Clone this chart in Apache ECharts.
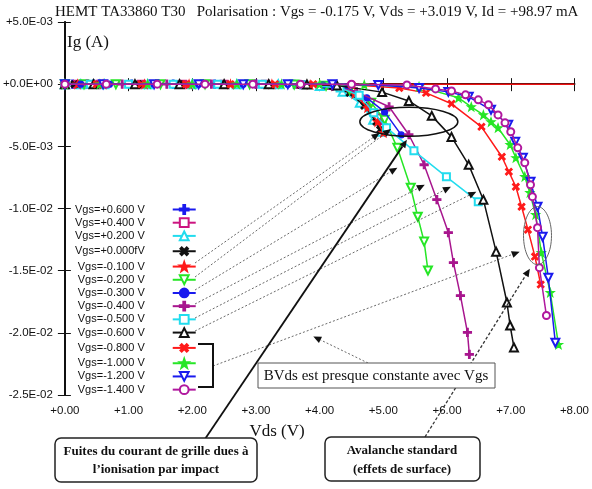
<!DOCTYPE html>
<html>
<head>
<meta charset="utf-8">
<script src="https://cdn.jsdelivr.net/npm/echarts@6/dist/echarts.min.js"></script>
<style>
  html, body { margin: 0; padding: 0; background: #fff; }
  #chart { width: 592px; height: 489px; }
</style>
</head>
<body>
<div id="chart"></div>
<script>
// Ig(Vds) curves, one array of [Vds (V), Ig (A)] per Vgs
const vgsNames = ['Vgs=+0.600 V', 'Vgs=+0.400 V', 'Vgs=+0.200 V', 'Vgs=+0.000fV', 'Vgs=-0.100 V',
  'Vgs=-0.200 V', 'Vgs=-0.300 V', 'Vgs=-0.400 V', 'Vgs=-0.500 V', 'Vgs=-0.600 V',
  'Vgs=-0.800 V', 'Vgs=-1.000 V', 'Vgs=-1.200 V', 'Vgs=-1.400 V']

const igP060 = [[0, 0], [0.12, 0], [0.45, 0], [1.05, 0], [1.7, 0], [2.35, 0], [3.0, 0], [3.6, -0.02e-3], [4.16, -0.1e-3], [4.5, -0.6e-3], [4.75, -1.67e-3], [4.94, -3.03e-3], [5.03, -3.83e-3]]
const igP040 = [[0, 0], [0.2, 0], [0.55, 0], [1.2, 0], [1.85, 0], [2.5, 0], [3.15, 0], [3.7, -0.03e-3], [4.08, -0.1e-3], [4.44, -0.5e-3], [4.72, -1.5e-3], [4.91, -2.7e-3], [5.0, -3.5e-3]]
const igP020 = [[0, 0], [0.25, 0], [0.62, 0], [1.3, 0], [2.0, 0], [2.7, 0], [3.35, 0], [4.0, -0.14e-3], [4.36, -0.6e-3], [4.63, -1.5e-3], [4.84, -2.87e-3], [4.97, -3.83e-3]]
const igP000 = [[0, 0], [0.15, 0], [0.5, 0], [1.15, 0], [1.8, 0], [2.45, 0], [3.1, 0], [3.7, -0.04e-3], [4.13, -0.14e-3], [4.47, -0.7e-3], [4.7, -1.74e-3], [4.89, -3.03e-3], [4.95, -3.67e-3]]
const igM010 = [[0, 0], [0.2, 0], [0.6, 0], [1.25, 0], [1.95, 0], [2.6, 0], [3.25, 0], [3.85, -0.05e-3], [4.24, -0.14e-3], [4.55, -0.78e-3], [4.75, -1.9e-3], [4.91, -3.03e-3], [5.0, -3.91e-3]]
const igM020 = [[0, 0], [0.3, 0], [0.8, 0], [1.5, 0], [2.2, 0], [2.9, 0], [3.6, -0.02e-3], [4.1, -0.12e-3], [4.47, -0.46e-3], [4.81, -1.5e-3], [5.02, -2.87e-3], [5.22, -5.12e-3], [5.43, -8.33e-3], [5.54, -10.66e-3], [5.64, -12.66e-3], [5.70, -14.99e-3]]
const igM030 = [[0, 0], [0.25, 0], [0.7, 0], [1.4, 0], [2.1, 0], [2.8, 0], [3.5, 0], [4.05, -0.08e-3], [4.39, -0.2e-3], [4.74, -1.1e-3], [5.02, -2.23e-3], [5.28, -4.08e-3]]
const igM040 = [[0, 0], [0.35, 0], [0.9, 0], [1.6, 0], [2.3, 0], [3.0, 0], [3.7, -0.03e-3], [4.2, -0.15e-3], [4.58, -0.62e-3], [5.09, -1.82e-3], [5.40, -4.07e-3], [5.64, -6.48e-3], [5.84, -9.29e-3], [6.02, -11.94e-3], [6.10, -14.35e-3], [6.21, -17.0e-3], [6.32, -19.97e-3], [6.35, -21.74e-3]]
const igM050 = [[0, 0], [0.4, 0], [1.0, 0], [1.7, 0], [2.4, 0], [3.1, 0], [3.75, -0.05e-3], [4.32, -0.3e-3], [4.62, -0.9e-3], [4.85, -2.3e-3], [5.05, -3.5e-3], [5.48, -5.36e-3], [5.99, -7.45e-3], [6.49, -9.45e-3]]
const igM060 = [[0, 0], [0.45, 0], [1.1, 0], [1.8, 0], [2.5, 0], [3.2, 0], [3.8, -0.02e-3], [4.27, -0.1e-3], [4.98, -0.64e-3], [5.40, -1.35e-3], [5.76, -2.55e-3], [6.07, -4.24e-3], [6.34, -6.49e-3], [6.57, -9.29e-3], [6.77, -13.47e-3], [6.94, -17.56e-3], [6.99, -19.41e-3], [7.05, -21.17e-3]]
const igM080 = [[0, 0], [0.5, 0], [1.2, 0], [1.9, 0], [2.6, 0], [3.3, 0], [3.9, 0], [4.5, -0.05e-3], [5.25, -0.3e-3], [5.67, -0.7e-3], [6.07, -1.58e-3], [6.54, -3.43e-3], [6.86, -5.84e-3], [6.97, -7.04e-3], [7.08, -8.25e-3], [7.17, -9.86e-3], [7.27, -11.7e-3], [7.38, -13.87e-3], [7.47, -16.12e-3]]
const igM100 = [[0, 0], [0.55, 0], [1.3, 0], [2.0, 0], [2.7, 0], [3.4, 0], [4.0, 0], [4.7, -0.05e-3], [5.56, -0.2e-3], [6.18, -1.1e-3], [6.38, -1.82e-3], [6.57, -2.47e-3], [6.69, -3.03e-3], [6.80, -3.51e-3], [6.99, -4.87e-3], [7.08, -5.92e-3], [7.22, -7.44e-3], [7.30, -8.73e-3], [7.39, -10.5e-3], [7.48, -13.55e-3], [7.62, -16.76e-3], [7.75, -20.94e-3]]
const igM120 = [[0, 0], [0.6, 0], [1.4, 0], [2.1, 0], [2.8, 0], [3.5, 0], [4.2, 0], [4.92, -0.06e-3], [5.56, -0.3e-3], [6.02, -0.62e-3], [6.34, -1.02e-3], [6.69, -2.06e-3], [6.96, -3.27e-3], [7.07, -4.64e-3], [7.19, -5.92e-3], [7.31, -7.85e-3], [7.42, -9.86e-3], [7.50, -12.27e-3], [7.59, -15.57e-3], [7.70, -20.79e-3]]
const igM140 = [[0, 0], [0.65, 0], [1.45, 0], [2.2, 0], [2.95, 0], [3.7, 0], [4.5, 0], [5.37, -0.06e-3], [5.82, -0.38e-3], [6.07, -0.54e-3], [6.29, -0.86e-3], [6.49, -1.26e-3], [6.65, -1.66e-3], [6.80, -2.47e-3], [6.91, -3.11e-3], [7.00, -3.83e-3], [7.11, -5.12e-3], [7.22, -6.32e-3], [7.31, -8.09e-3], [7.34, -9.05e-3], [7.42, -11.54e-3], [7.45, -14.76e-3], [7.56, -18.61e-3]]
const zeroLine = [[0, 0], [8, 0]]

const curves = [igP060, igP040, igP020, igP000, igM010, igM020, igM030, igM040, igM050, igM060, igM080, igM100, igM120, igM140]

const PLUS = 'path://M4,0H6V4H10V6H6V10H4V6H0V4H4Z'
const STAR = 'path://M5,0L6.2,3.4L10,3.5L7,5.8L8.1,9.5L5,7.3L1.9,9.5L3,5.8L0,3.5L3.8,3.4Z'

// color, symbol, rotation, size for each curve
const styles = [
  ['#1a1aee', PLUS, 0, 8],
  ['#cc1480', 'emptyRect', 0, 7],
  ['#22dcee', 'emptyTriangle', 0, 8],
  ['#111111', PLUS, 45, 8],
  ['#ff1a1a', STAR, 0, 8],
  ['#26e626', 'emptyTriangle', 180, 8],
  ['#1a1aee', 'circle', 0, 6],
  ['#a8168e', PLUS, 0, 8],
  ['#22dcee', 'emptyRect', 0, 7],
  ['#111111', 'emptyTriangle', 0, 8],
  ['#ff1a1a', PLUS, 45, 8],
  ['#26e626', STAR, 0, 8],
  ['#1a1aee', 'emptyTriangle', 180, 8],
  ['#b0189e', 'emptyCircle', 0, 7]
]

const SERIF = 'Liberation Serif'
const SANS = 'Liberation Sans'

function fmtE(v) {
  if (Math.abs(v) < 1e-12) return '+0.0E+00'
  const parts = Math.abs(v).toExponential(1).split('e')
  const ex = parseInt(parts[1], 10)
  return (v < 0 ? '-' : '+') + parts[0] + 'E' + (ex < 0 ? '-' : '+') + String(Math.abs(ex)).padStart(2, '0')
}

const chart = echarts.init(document.getElementById('chart'))

const series = [{
  name: 'zero',
  type: 'line',
  data: zeroLine,
  symbol: 'none',
  z: 1,
  lineStyle: { color: '#ee1111', width: 1.5 },
  silent: true
}]
curves.forEach((d, i) => {
  const s = styles[i]
  series.push({
    name: vgsNames[i],
    type: 'line',
    data: d,
    z: 2 + i,
    symbol: s[1],
    symbolRotate: s[2],
    symbolSize: s[3],
    showAllSymbol: true,
    color: s[0],
    lineStyle: { color: s[0], width: 1.5 },
    itemStyle: { color: s[0], borderColor: s[0], borderWidth: 1.2 }
  })
})

chart.setOption({
  animation: false,
  backgroundColor: '#fff',
  title: {
    text: 'HEMT TA33860 T30   Polarisation : Vgs = -0.175 V, Vds = +3.019 V, Id = +98.97 mA',
    left: 50,
    top: 0,
    textStyle: { fontFamily: SERIF, fontSize: 15, fontWeight: 'normal', color: '#111' }
  },
  grid: { left: 62, right: 15, top: 22, bottom: 94 },
  legend: {
    orient: 'vertical',
    left: 70,
    top: 199,
    align: 'right',
    itemWidth: 23,
    itemHeight: 11,
    itemGap: 2.2,
    selectedMode: false,
    data: vgsNames,
    textStyle: { fontFamily: SANS, fontSize: 11, color: '#111', lineHeight: 11, padding: [0, 23, 0, 0] }
  },
  xAxis: [{
    type: 'value', min: 0, max: 8, interval: 1,
    axisLine: { lineStyle: { color: '#111', width: 2 } },
    axisTick: { inside: true, length: 6, lineStyle: { color: '#111' } },
    axisLabel: { formatter: v => '+' + v.toFixed(2), fontFamily: SANS, fontSize: 11.5, color: '#111', margin: 10 },
    splitLine: { show: false }
  }, {
    type: 'value', min: 0, max: 8, interval: 1, position: 'top',
    axisLine: { show: true, lineStyle: { color: '#111', width: 1.5 } },
    axisTick: { inside: true, length: 7, lineStyle: { color: '#111' } },
    axisLabel: { show: false },
    splitLine: { show: false }
  }],
  yAxis: [{
    type: 'value', min: -0.025, max: 0.005, interval: 0.005,
    axisLine: { show: true, lineStyle: { color: '#111', width: 2 } },
    axisTick: { show: true, inside: true, length: 6, lineStyle: { color: '#111' } },
    axisLabel: { formatter: fmtE, fontFamily: SANS, fontSize: 11.5, color: '#111', margin: 12 },
    splitLine: { show: false }
  }, {
    type: 'value', min: -0.025, max: 0.005, interval: 0.005, position: 'right',
    axisLine: { show: true, lineStyle: { color: '#111', width: 1.5 } },
    axisTick: { show: true, inside: true, length: 7, lineStyle: { color: '#111' } },
    axisLabel: { show: false },
    splitLine: { show: false }
  }],
  series: series
})

// annotations: arrows, ellipses, boxes
function px(p) {
  return chart.convertToPixel({ xAxisIndex: 0, yAxisIndex: 0 }, p)
}

function arrow(p0, p1, lineStyle) {
  const dx = p1[0] - p0[0]
  const dy = p1[1] - p0[1]
  const len = Math.sqrt(dx * dx + dy * dy)
  const ux = dx / len
  const uy = dy / len
  const bx = p1[0] - ux * 8
  const by = p1[1] - uy * 8
  return [{
    type: 'line', z: 50,
    shape: { x1: p0[0], y1: p0[1], x2: bx, y2: by },
    style: Object.assign({ stroke: '#444', lineWidth: 0.8, lineDash: [2, 2] }, lineStyle)
  }, {
    type: 'polygon', z: 51,
    shape: { points: [[p1[0], p1[1]], [bx - uy * 3.5, by + ux * 3.5], [bx + uy * 3.5, by - ux * 3.5]] },
    style: { fill: '#111' }
  }]
}

// legend anchors (pixel) -> data targets
const legendAnchors = [[195, 263], [195, 277], [195, 290], [195, 304], [195, 318], [195, 331], [213, 366]]
const arrowTargets = [[4.94, -3.92e-3], [5.12, -3.6e-3], [5.22, -6.72e-3], [5.65, -8.09e-3], [6.06, -8.25e-3], [6.46, -8.65e-3], [7.14, -13.47e-3]]

const g = []
legendAnchors.forEach((a, i) => { g.push(...arrow(a, px(arrowTargets[i]))) })

// ellipses
const e1 = px([5.40, -3.03e-3])
g.push({ type: 'ellipse', z: 40, shape: { cx: e1[0], cy: e1[1], rx: 49, ry: 14.5 }, style: { fill: 'none', stroke: '#111', lineWidth: 1.5 } })
const e2 = px([7.42, -12.18e-3])
g.push({ type: 'ellipse', z: 40, shape: { cx: e2[0], cy: e2[1], rx: 14, ry: 29 }, style: { fill: 'none', stroke: '#666', lineWidth: 1 } })

// bracket on legend
g.push({ type: 'polyline', z: 50, shape: { points: [[198, 344], [213, 344], [213, 387], [198, 387]] }, style: { stroke: '#111', lineWidth: 2, fill: 'none' } })

// BVds box and arrow
g.push(...arrow([368, 363], px([3.90, -20.29e-3])))
g.push({ type: 'rect', z: 60, shape: { x: 258, y: 363, width: 237, height: 25 }, style: { fill: '#fff', stroke: '#555', lineWidth: 1 } })
g.push({ type: 'text', z: 61, style: { text: 'BVds est presque constante avec Vgs', x: 376, y: 376, align: 'center', verticalAlign: 'middle', fontFamily: SERIF, fontSize: 15, fill: '#111' } })

// impact ionisation box and arrow
g.push(...arrow([205, 439], px([5.37, -4.47e-3]), { stroke: '#111', lineWidth: 1.8, lineDash: null }))
g.push({ type: 'rect', z: 60, shape: { x: 55, y: 438, width: 202, height: 44, r: 6 }, style: { fill: '#fff', stroke: '#222', lineWidth: 1.5 } })
g.push({ type: 'text', z: 61, style: { text: 'Fuites du courant de grille dues à\nl\u2019ionisation par impact', x: 156, y: 461, align: 'center', verticalAlign: 'middle', lineHeight: 18, fontFamily: SERIF, fontSize: 13, fontWeight: 'bold', fill: '#111' } })

// avalanche box and arrow
g.push(...arrow([425, 437], px([7.30, -14.84e-3]), { stroke: '#333', lineWidth: 1.3, lineDash: [3, 2] }))
g.push({ type: 'rect', z: 60, shape: { x: 325, y: 437, width: 155, height: 44, r: 6 }, style: { fill: '#fff', stroke: '#222', lineWidth: 1.5 } })
g.push({ type: 'text', z: 61, style: { text: 'Avalanche standard\n(effets de surface)', x: 402, y: 460, align: 'center', verticalAlign: 'middle', lineHeight: 19, fontFamily: SERIF, fontSize: 13, fontWeight: 'bold', fill: '#111' } })

// axis titles
g.push({ type: 'text', z: 61, style: { text: 'Ig (A)', x: 67, y: 43, verticalAlign: 'middle', fontFamily: SERIF, fontSize: 17, fill: '#111' } })
g.push({ type: 'text', z: 61, style: { text: 'Vds (V)', x: 277, y: 432, align: 'center', verticalAlign: 'middle', fontFamily: SERIF, fontSize: 17, fill: '#111' } })

chart.setOption({ graphic: g })
</script>
</body>
</html>
